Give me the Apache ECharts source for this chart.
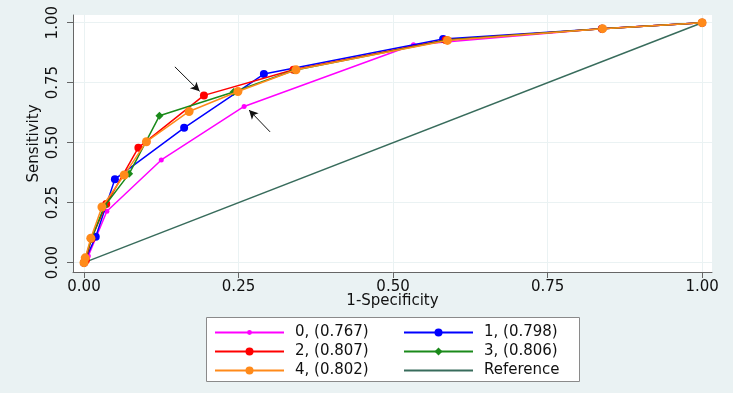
<!DOCTYPE html>
<html>
<head>
<meta charset="utf-8">
<script src="https://cdn.jsdelivr.net/npm/echarts@6/dist/echarts.min.js"></script>
<style>
  html, body { margin: 0; padding: 0; background: #eaf2f3; }
  #chart { width: 733px; height: 393px; }
</style>
</head>
<body>
<div id="chart"></div>
<script>
// ROC curves
const names  = ['0, (0.767)', '1, (0.798)', '2, (0.807)', '3, (0.806)', '4, (0.802)']
const colors = ['#ff00ff', '#0000ff', '#ff0000', '#1a8a1a', '#ff8a1a']

const x0 = [0, 0.007, 0.037, 0.125, 0.259, 0.533, 0.835, 1]
const y0 = [0, 0.028, 0.214, 0.428, 0.651, 0.908, 0.975, 1]
const x1 = [0, 0.019, 0.050, 0.162, 0.291, 0.581, 0.838, 1]
const y1 = [0, 0.108, 0.348, 0.562, 0.786, 0.932, 0.975, 1]
const x2 = [0, 0.003, 0.012, 0.036, 0.088, 0.194, 0.339, 0.585, 0.838, 1]
const y2 = [0, 0.010, 0.100, 0.244, 0.479, 0.697, 0.804, 0.928, 0.975, 1]
const x3 = [0, 0.012, 0.033, 0.073, 0.122, 0.242, 0.340, 0.588, 0.838, 1]
const y3 = [0, 0.100, 0.235, 0.370, 0.612, 0.711, 0.802, 0.928, 0.975, 1]
const x4 = [0, 0.002, 0.011, 0.029, 0.065, 0.101, 0.170, 0.249, 0.343, 0.588, 0.839, 1]
const y4 = [0, 0.020, 0.102, 0.232, 0.365, 0.504, 0.630, 0.713, 0.804, 0.926, 0.975, 1]

const refX = [0, 1]
const refY = [0, 1]

const ticks = [0, 0.25, 0.5, 0.75, 1]

// arrows: [from, to] in data units
const arrows = [
  [[0.147, 0.816], [0.187, 0.714]],
  [[0.301, 0.545], [0.267, 0.636]],
]

const xs = [x0, x1, x2, x3, x4]
const ys = [y0, y1, y2, y3, y4]
const symbols = ['circle', 'circle', 'circle', 'diamond', 'circle']
const sizes   = [5, 8, 8, 8, 9]

const font = 'DejaVu Sans'
const chart = echarts.init(document.getElementById('chart'))

const series = [{
  name: 'Reference',
  type: 'line',
  symbol: 'none',
  lineStyle: { color: '#386c5c', width: 1.5 },
  itemStyle: { color: '#386c5c' },
  data: refX.map((v, i) => [v, refY[i]]),
  z: 1,
}, ...names.map((n, i) => ({
  name: n,
  type: 'line',
  symbol: symbols[i],
  symbolSize: sizes[i],
  showSymbol: true,
  lineStyle: { color: colors[i], width: 1.5 },
  itemStyle: { color: colors[i] },
  data: xs[i].map((v, j) => [v, ys[i][j]]),
  z: 2 + i,
})), {
  name: 'arrows',
  type: 'line',
  data: [],
  silent: true,
  markLine: {
    silent: true,
    symbol: ['none', 'arrow'],
    symbolSize: [7, 9],
    label: { show: false },
    lineStyle: { color: '#111', width: 1, type: 'solid' },
    data: arrows.map(a => [{ coord: a[0] }, { coord: a[1] }]),
  },
}]

const legendText = { fontFamily: font, fontSize: 15, color: '#111', padding: [0, 0, 0, 6] }
const legendBase = {
  orient: 'vertical', padding: 0,
  itemWidth: 69, itemHeight: 10, itemGap: 4,
  textStyle: legendText, selectedMode: false,
}

chart.setOption({
  backgroundColor: '#eaf2f3',
  textStyle: { fontFamily: font },
  animation: false,
  grid: {
    left: 73, top: 15, width: 639, height: 257,
    show: true, backgroundColor: '#fff', borderWidth: 0,
  },
  graphic: [{
    type: 'rect',
    left: 206, top: 317,
    shape: { width: 373, height: 64 },
    style: { fill: '#fff', stroke: '#8a8a8a', lineWidth: 1 },
    z: -1,
  }],
  xAxis: {
    type: 'value',
    min: -0.0178, max: 1.016,
    name: '1-Specificity',
    nameLocation: 'middle',
    nameGap: 22,
    nameMoveOverlap: false,
    nameTextStyle: { fontFamily: font, fontSize: 15, color: '#111' },
    axisLine: { show: true, onZero: false, lineStyle: { color: '#666', width: 1 } },
    axisTick: { show: true, length: 6, customValues: ticks, lineStyle: { color: '#666' } },
    axisLabel: {
      customValues: ticks, margin: 8,
      fontFamily: font, fontSize: 15, color: '#111',
      formatter: v => v.toFixed(2),
    },
    splitLine: { show: true, lineStyle: { color: '#eaf2f3', width: 1 } },
  },
  yAxis: {
    type: 'value',
    min: -0.039, max: 1.032,
    name: 'Sensitivity',
    nameLocation: 'middle',
    nameGap: 31,
    nameMoveOverlap: false,
    nameTextStyle: { fontFamily: font, fontSize: 15, color: '#111' },
    axisLine: { show: true, onZero: false, lineStyle: { color: '#666', width: 1 } },
    axisTick: { show: true, length: 6, customValues: ticks, lineStyle: { color: '#666' } },
    axisLabel: {
      customValues: ticks, margin: 12, rotate: 90,
      fontFamily: font, fontSize: 15, color: '#111',
      formatter: v => v.toFixed(2),
    },
    splitLine: { show: true, lineStyle: { color: '#eaf2f3', width: 1 } },
  },
  legend: [{
    ...legendBase,
    left: 214, top: 325, itemHeight: 6,
    data: [names[0]],
  }, {
    ...legendBase,
    left: 214, top: 344,
    data: [names[2], names[4]],
  }, {
    ...legendBase,
    left: 403, top: 325,
    data: [names[1], names[3], { name: 'Reference', itemStyle: { color: 'transparent', opacity: 0 } }],
  }],
  series,
})
</script>
</body>
</html>
